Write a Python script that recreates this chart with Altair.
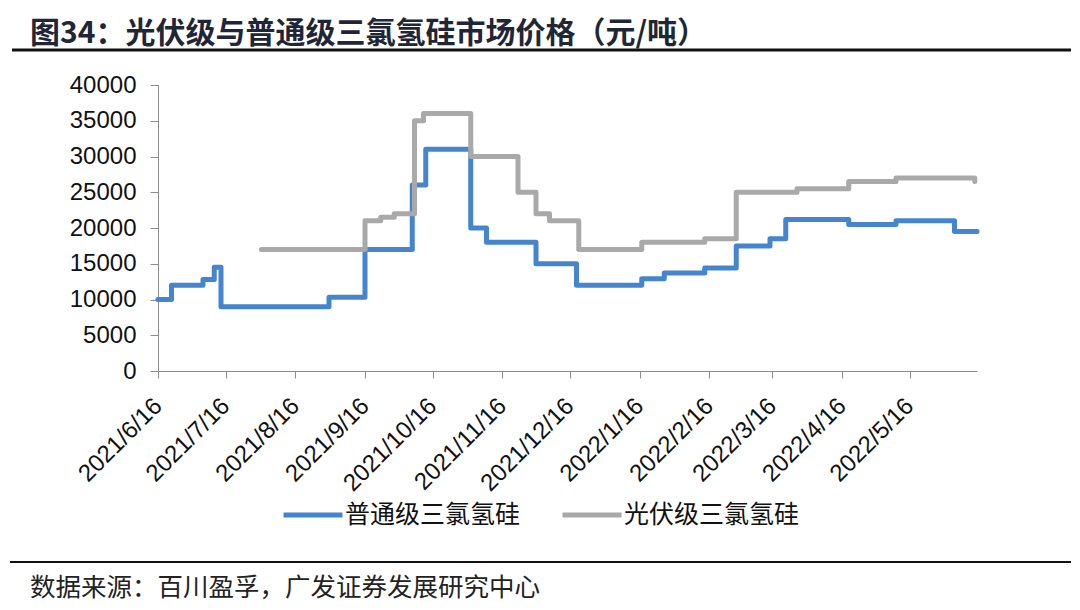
import altair as alt
import pandas as pd

# ---- data ----
normal_dates = ["2021/06/16", "2021/06/22", "2021/07/06", "2021/07/11", "2021/07/14",
                "2021/08/31", "2021/09/16", "2021/10/07", "2021/10/13", "2021/11/02",
                "2021/11/09", "2021/12/01", "2021/12/19", "2022/01/17", "2022/01/27",
                "2022/02/14", "2022/02/28", "2022/03/15", "2022/03/22", "2022/04/19",
                "2022/05/10", "2022/06/05", "2022/06/15"]
normal_values = [10000, 12000, 12800, 14500, 9000,
                 10300, 17000, 26000, 31000, 20000,
                 18000, 15000, 12000, 12900, 13700,
                 14400, 17500, 18500, 21200, 20500,
                 21000, 19500, 19500]

pv_dates = ["2021/08/01", "2021/09/16", "2021/09/23", "2021/09/29", "2021/10/08",
            "2021/10/12", "2021/11/02", "2021/11/23", "2021/12/01", "2021/12/07",
            "2021/12/20", "2022/01/17", "2022/02/14", "2022/02/28", "2022/03/27",
            "2022/04/19", "2022/05/10", "2022/06/13", "2022/06/14"]
pv_values = [17000, 21000, 21500, 22000, 35000,
             36000, 30000, 25000, 22000, 21000,
             17000, 18000, 18500, 25000, 25500,
             26500, 27000, 27000, 26500]

series_names = ["普通级三氯氢硅", "光伏级三氯氢硅"]
series_colors = ["#4485CD", "#A9A9A9"]

tick_months = [(2021, 6), (2021, 7), (2021, 8), (2021, 9), (2021, 10), (2021, 11),
               (2021, 12), (2022, 1), (2022, 2), (2022, 3), (2022, 4), (2022, 5)]
y_ticks = [0, 5000, 10000, 15000, 20000, 25000, 30000, 35000, 40000]

title_text = "图34：光伏级与普通级三氯氢硅市场价格（元/吨）"
source_text = "数据来源：百川盈孚，广发证券发展研究中心"

# ---- build table ----
df = pd.concat([
    pd.DataFrame({"date": normal_dates, "price": normal_values, "series": series_names[0]}),
    pd.DataFrame({"date": pv_dates, "price": pv_values, "series": series_names[1]}),
], ignore_index=True)

cjk = "Noto Sans CJK SC"
latin = "Liberation Sans"

x_values = [alt.DateTime(year=y, month=m, date=16) for y, m in tick_months]

lines = alt.Chart(df).mark_line(
    interpolate="step-after", strokeCap="round", strokeJoin="round", strokeWidth=5
).encode(
    x=alt.X("date:T",
            scale=alt.Scale(domain=[alt.DateTime(year=2021, month=6, date=16),
                                    alt.DateTime(year=2022, month=6, date=15)]),
            axis=alt.Axis(values=x_values, format="%Y/%-m/%-d", title=None,
                          labelAngle=-45, labelAlign="right", labelBaseline="middle",
                          labelFont=latin, labelFontSize=24, labelColor="#111111",
                          labelPadding=24, tickSize=7, tickColor="#8c8c8c",
                          domainColor="#8c8c8c", grid=False, labelOverlap=False,
                          labelFlush=False)),
    y=alt.Y("price:Q", scale=alt.Scale(domain=[0, 40000], nice=False),
            axis=alt.Axis(values=y_ticks, format="d", title=None,
                          labelFont=latin, labelFontSize=24, labelColor="#111111",
                          labelPadding=14, tickSize=8, tickColor="#8c8c8c",
                          domainColor="#8c8c8c", grid=False)),
    color=alt.Color("series:N",
                    scale=alt.Scale(domain=series_names, range=series_colors),
                    legend=alt.Legend(title=None, orient="none", direction="horizontal",
                                      legendX=123, legendY=398,
                                      symbolType="stroke", symbolSize=3481,
                                      symbolStrokeWidth=5, labelFont=cjk,
                                      labelFontSize=25, labelColor="#111111",
                                      labelLimit=0, labelOffset=0, columnPadding=31,
                                      padding=0)),
)

one = pd.DataFrame({"k": [0]})

title = alt.Chart(one).mark_text(
    text=title_text, font=cjk, fontSize=30, fontWeight="bold", color="#1F2636",
    align="left", baseline="middle"
).encode(x=alt.value(-128), y=alt.value(-51))

title_rule = alt.Chart(one).mark_rule(color="#111111", strokeWidth=3).encode(
    x=alt.value(-146), x2=alt.value(913), y=alt.value(-35))

bottom_rule = alt.Chart(one).mark_rule(color="#111111", strokeWidth=2).encode(
    x=alt.value(-148), x2=alt.value(913), y=alt.value(477))

source = alt.Chart(one).mark_text(
    text=source_text, font=cjk, fontSize=25.5, color="#222222",
    align="left", baseline="middle"
).encode(x=alt.value(-128), y=alt.value(503))

chart = alt.layer(lines, title, title_rule, bottom_rule, source).properties(
    width=819, height=286,
    background="white",
    autosize=alt.AutoSizeParams(type="none"),
    padding={"left": 150, "top": 77, "right": 95, "bottom": 231},
).configure_view(stroke=None)

chart.save("out.html", embed_options={"renderer": "svg", "actions": False})
